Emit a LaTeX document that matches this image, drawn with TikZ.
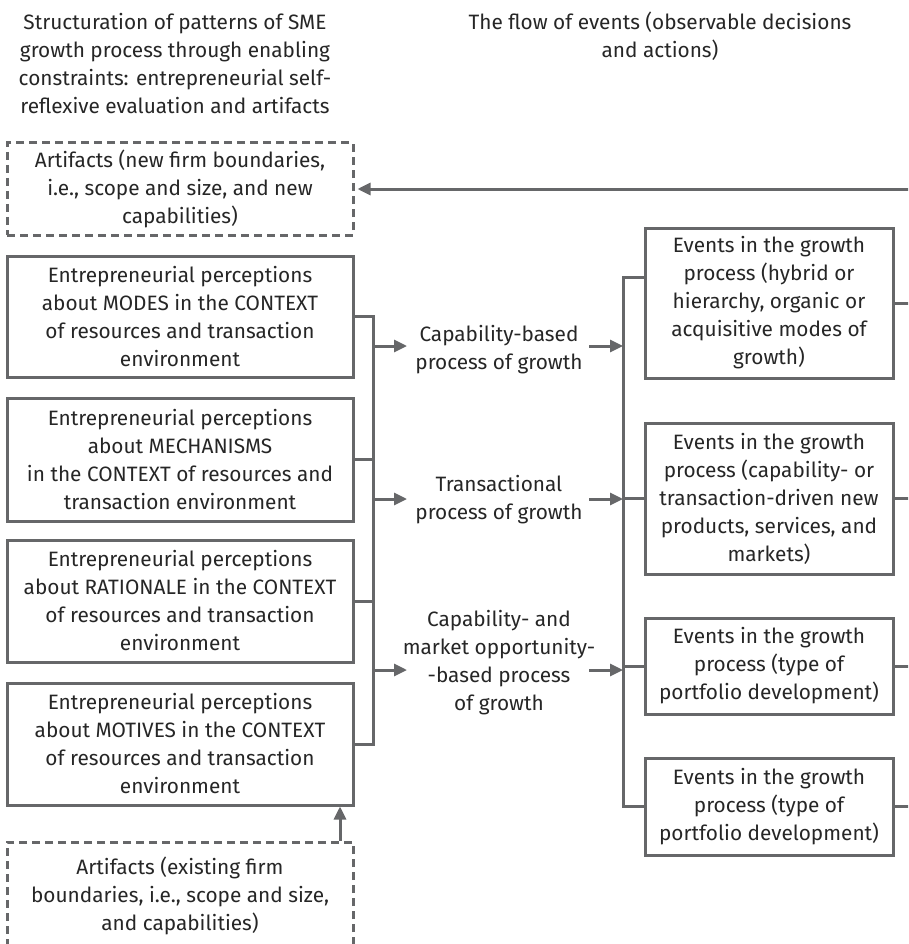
\documentclass[tikz,border=0pt]{standalone}
\usepackage{fontspec}
\setmainfont{Fira Sans}
\usetikzlibrary{arrows.meta}
\definecolor{linegray}{HTML}{666769}
\definecolor{inkgray}{HTML}{262626}
\begin{document}
\begin{tikzpicture}[x=1pt,y=-1pt,
  every node/.style={text=inkgray, font=\fontsize{20.8}{28}\selectfont, align=center, inner sep=0pt},
  box/.style={draw=linegray, line width=3pt, fill=white},
  artbox/.style={box, dash pattern=on 8pt off 5pt},
  wire/.style={draw=linegray, line width=3pt},
  arr/.style={wire, -{Triangle[length=13pt,width=12pt]}}]
  % canvas
  \clip (0,0) rectangle (908,944);
  \fill[white] (0,0) rectangle (908,944);
  \coordinate (busL) at (373,0);
  \coordinate (busR) at (623,0);
  \coordinate (inL) at (407,0);
  \coordinate (outR) at (589,0);
  \coordinate (edge) at (912,0);
  \coordinate (upx) at (340,0);

  % column headings
  \node (h1) at (175,64) {Structuration of patterns of SME\\growth process through enabling\\constraints: entrepreneurial self-\\reflexive evaluation and artifacts};
  \node (h2) at (660,36) {The flow of events (observable decisions\\and actions)};

  % left column
  \node[artbox, minimum width=346pt, minimum height=92pt] (art1) at (180,189)
    {Artifacts (new firm boundaries,\\i.e., scope and size, and new\\capabilities)};
  \node[box, minimum width=346pt, minimum height=121pt] (m1) at (180,316.5)
    {Entrepreneurial perceptions\\about MODES in the CONTEXT\\of resources and transaction\\environment};
  \node[box, minimum width=346pt, minimum height=123pt] (m2) at (180,459.5)
    {Entrepreneurial perceptions\\about MECHANISMS\\in the CONTEXT of resources and\\transaction environment};
  \node[box, minimum width=346pt, minimum height=122pt] (m3) at (180,601)
    {Entrepreneurial perceptions\\about RATIONALE in the CONTEXT\\of resources and transaction\\environment};
  \node[box, minimum width=346pt, minimum height=122pt] (m4) at (180,744)
    {Entrepreneurial perceptions\\about MOTIVES in the CONTEXT\\of resources and transaction\\environment};
  \node[artbox, minimum width=346pt, minimum height=108pt] (art2) at (180,896)
    {Artifacts (existing firm\\boundaries, i.e., scope and size,\\and capabilities)};

  % middle column
  \node (c1) at (499,350) {Capability-based\\process of growth};
  \node (c2) at (499,500) {Transactional\\process of growth};
  \node (c3) at (499,663) {Capability- and\\market opportunity-\\-based process\\of growth};
  \coordinate (a1) at (0,346);
  \coordinate (a2) at (0,499);
  \coordinate (a3) at (0,670);

  % right column
  \node[box, minimum width=248pt, minimum height=150pt] (r1) at (769,303)
    {Events in the growth\\process (hybrid or\\hierarchy, organic or\\acquisitive modes of\\growth)};
  \node[box, minimum width=248pt, minimum height=151pt] (r2) at (769,498.5)
    {Events in the growth\\process (capability- or\\transaction-driven new\\products, services, and\\markets)};
  \node[box, minimum width=248pt, minimum height=96pt] (r3) at (769,666)
    {Events in the growth\\process (type of\\portfolio development)};
  \node[box, minimum width=248pt, minimum height=97pt] (r4) at (769,806.5)
    {Events in the growth\\process (type of\\portfolio development)};

  % left bus joining the perception boxes
  \draw[wire] (m1.east) -- (m1.east -| busL) -- (m4.east -| busL) -- (m4.east);
  \draw[wire] (m2.east) -- (m2.east -| busL);
  \draw[wire] (m3.east) -- (m3.east -| busL);

  % arrows into and out of the processes
  \draw[arr] (a1 -| busL) -- (a1 -| inL);
  \draw[arr] (a2 -| busL) -- (a2 -| inL);
  \draw[arr] (a3 -| busL) -- (a3 -| inL);
  \draw[arr] (a1 -| outR) -- (a1 -| busR);
  \draw[arr] (a2 -| outR) -- (a2 -| busR);
  \draw[arr] (a3 -| outR) -- (a3 -| busR);

  % right bus feeding the event boxes
  \draw[wire] ([yshift=26pt]r1.west) -- ([yshift=26pt]r1.west -| busR) -- (r4.west -| busR) -- (r4.west);
  \draw[wire] (r2.west -| busR) -- (r2.west);
  \draw[wire] (r3.west -| busR) -- (r3.west);

  % outgoing stubs and the feedback arrow
  \draw[wire] (r1.east) -- (r1.east -| edge);
  \draw[wire] (r2.east) -- (r2.east -| edge);
  \draw[wire] (r3.east) -- (r3.east -| edge);
  \draw[wire] (r4.east) -- (r4.east -| edge);
  \draw[arr] (art1.east -| edge) -- ([xshift=3pt]art1.east);
  \draw[arr] (art2.north -| upx) -- (m4.south -| upx);
\end{tikzpicture}
\end{document}
